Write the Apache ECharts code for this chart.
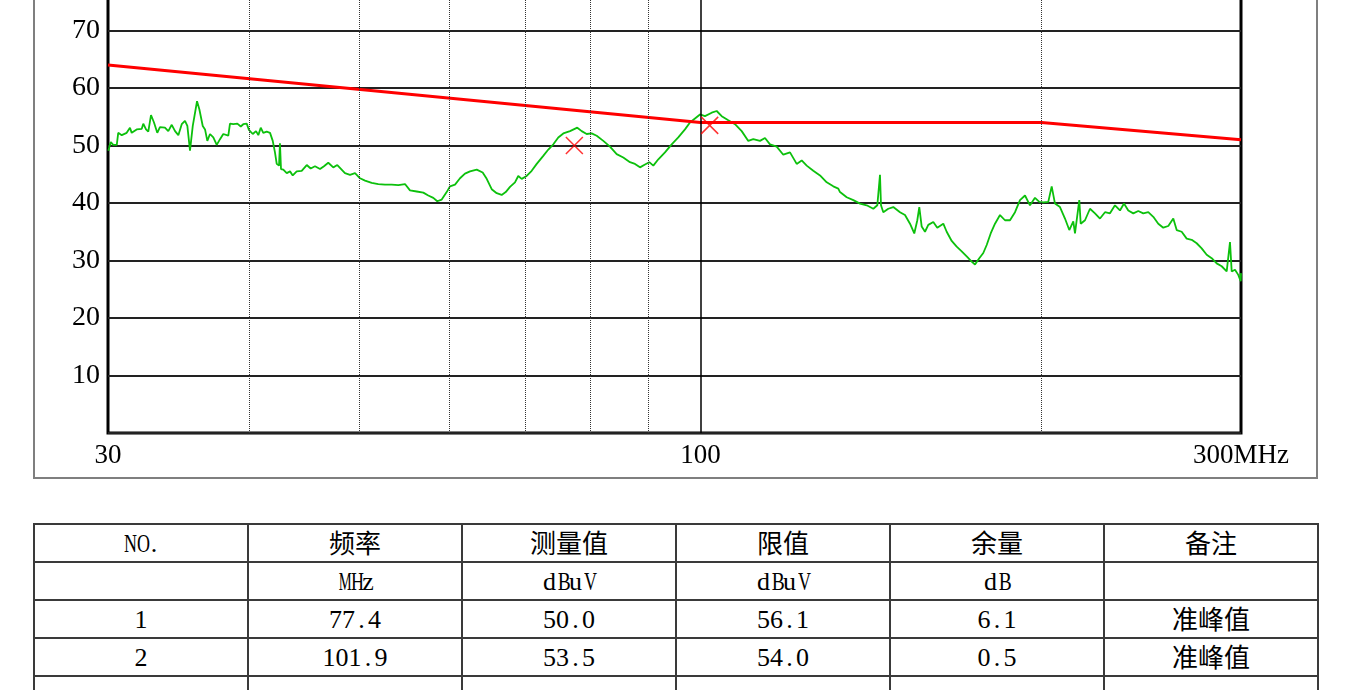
<!DOCTYPE html>
<html><head><meta charset="utf-8">
<script src="https://cdn.jsdelivr.net/npm/echarts@6/dist/echarts.min.js"></script>
<style>
html,body{margin:0;padding:0;width:1362px;height:690px;overflow:hidden;background:#fff;}
#frame{position:absolute;left:33px;top:-20px;width:1285px;height:499px;box-sizing:border-box;border:2px solid #7f7f7f;}
#chart{position:absolute;left:0;top:-41px;width:1362px;height:520px;}
#tbl{position:absolute;left:33px;top:523px;border-collapse:collapse;table-layout:fixed;width:1285px;}
#tbl td{border:2px solid #3a3a3a;height:36px;text-align:center;vertical-align:middle;padding:0;color:#000;line-height:26px;white-space:nowrap;}
#tbl .la{display:inline-block;width:13px;text-align:center;font-family:"Liberation Serif",serif;font-size:26px;line-height:26px;vertical-align:middle;}
#tbl .cj{display:inline-block;font-family:"Noto Sans CJK SC",sans-serif;font-size:26px;line-height:26px;vertical-align:middle;position:relative;top:-2px;}
</style></head>
<body>
<div id="frame"></div>
<div id="chart"></div>
<table id="tbl"></table>
<script>
// measured trace (MHz, dBuV)
const measFreq = [30.02,30.17,30.32,30.54,30.63,30.85,31.16,31.37,31.48,31.80,32.13,32.23,32.41,32.56,32.74,32.94,33.16,33.34,33.68,33.91,34.15,34.38,34.61,34.85,35.08,35.25,35.44,35.64,35.95,36.12,36.37,36.54,36.71,36.91,37.16,37.42,37.67,37.92,38.31,38.44,38.70,39.02,39.29,39.49,39.77,39.95,40.26,40.53,40.72,40.92,41.13,41.42,41.70,41.93,42.12,42.27,42.47,42.55,42.64,42.84,43.14,43.43,43.67,44.02,44.47,44.93,45.29,45.69,46.16,46.53,46.94,47.42,47.81,
48.56,49.06,49.56,50.07,50.58,51.27,51.96,52.67,53.40,54.12,54.86,55.42,56.18,56.94,57.52,58.11,58.58,59.11,59.71,60.11,60.73,61.35,61.97,62.61,63.47,64.24,64.77,65.43,66.10,66.77,67.32,67.91,68.60,69.06,69.54,70.25,70.97,71.70,72.66,73.41,74.16,74.91,75.68,76.72,77.86,78.56,79.36,80.17,80.99,
82.09,83.21,84.35,85.49,86.66,87.55,88.44,89.35,90.13,90.87,91.80,93.05,94.33,95.60,96.91,97.90,98.90,99.91,100.93,102.32,103.36,104.42,105.83,107.28,108.75,110.22,111.34,112.87,114.02,115.19,116.77,118.34,119.97,121.61,122.85,124.11,125.78,127.51,129.26,131.00,132.34,
132.80,134.62,136.44,138.31,140.20,142.10,143.26,144.04,144.34,145.01,146.49,147.99,150.02,151.55,153.10,154.44,155.39,156.02,156.78,157.84,158.90,160.52,161.83,163.82,164.95,166.64,168.34,170.06,171.80,173.55,174.72,176.25,177.69,178.92,180.38,181.97,183.83,185.70,187.60,189.52,191.45,193.41,195.38,197.38,
199.11,200.73,202.78,204.19,205.56,207.66,209.78,211.63,213.35,214.09,215.97,216.59,218.49,220.72,222.97,225.25,227.55,229.87,232.22,234.59,236.51,238.58,241.02,243.48,245.97,248.48,251.02,253.58,256.17,258.79,261.43,263.24,265.93,268.65,271.39,274.16,276.96,279.79,282.65,285.54,288.45,291.40,293.36,294.38,296.36,298.35,299.81,300];
const measLevel = [49.1,50.6,50.1,50.1,52.2,51.8,52.2,53.1,52.2,52.8,52.9,53.8,52.8,52.4,55.3,54.0,52.2,53.2,53.1,52.5,53.6,52.5,51.8,53.7,54.3,53.4,49.1,53.4,57.7,56.3,53.4,52.8,50.8,52.0,51.4,50.1,51.1,52.0,51.7,53.8,53.7,53.8,53.3,53.7,53.8,52.7,52.0,52.5,51.8,53.1,52.2,52.4,52.2,50.8,48.8,46.8,46.5,50.4,45.9,45.8,45.2,45.5,44.8,45.5,45.6,46.6,46.0,46.4,45.9,46.4,47.0,46.2,46.6,
45.2,44.9,45.2,44.3,43.9,43.5,43.3,43.2,43.2,43.1,43.3,42.2,42.0,41.8,41.3,40.9,40.3,40.6,41.9,42.9,43.2,44.3,45.1,45.5,45.8,45.3,44.2,42.4,41.7,41.4,41.9,42.8,43.6,44.7,44.2,44.7,45.6,46.8,48.2,49.3,50.2,51.4,52.1,52.5,53.1,52.5,52.0,52.1,51.7,
50.8,49.8,48.5,47.9,47.1,46.8,46.2,46.7,47.1,46.5,47.6,48.8,50.2,51.4,52.8,54.0,54.7,55.4,55.1,55.7,56.0,55.1,54.4,53.7,52.5,50.8,51.1,50.8,51.3,50.2,49.8,48.4,48.8,46.8,47.4,46.5,45.6,44.8,43.6,42.9,42.5,
41.9,41.0,40.5,39.9,39.6,39.0,39.6,44.9,39.6,38.4,39.0,39.3,38.4,37.9,36.4,34.7,37.0,39.3,35.9,35.0,36.2,36.7,35.7,36.4,35.0,33.4,32.4,31.6,30.7,29.8,29.3,30.4,31.3,32.7,34.7,36.4,37.9,37.0,37.0,38.4,40.5,41.3,39.6,40.9,
40.2,40.1,40.2,42.9,39.9,39.3,37.3,35.3,36.8,34.7,40.5,36.4,37.0,39.0,38.2,37.3,38.4,38.2,39.6,38.7,39.9,38.7,38.2,38.6,38.2,38.4,37.6,36.4,35.7,36.0,37.3,35.3,35.0,33.8,33.6,33.0,32.1,31.0,30.4,29.5,29.0,28.1,33.2,28.1,28.4,27.5,26.4,27.8];

// limit line
const limitFreq = [30, 100, 200, 300];
const limitLevel = [64, 54, 54, 51];

// peak table
const peakNo = ['1', '2'];
const peakFreq = [77.4, 101.9];
const peakLevel = [50.0, 53.5];
const peakLimit = [56.1, 54.0];
const peakMargin = [6.1, 0.5];
const peakNote = ['准峰值', '准峰值'];
const tableHead = ['NO.', '频率', '测量值', '限值', '余量', '备注'];
const tableUnits = ['', 'MHz', 'dBuV', 'dBuV', 'dB', ''];

// axis ticks
const xTickValues = [30, 100, 300];
const xTickLabels = ['30', '100', '300MHz'];
const xMinorGrid = [40, 50, 60, 70, 80, 90, 200];
const xMajorGrid = [100];
const yTicks = [0, 10, 20, 30, 40, 50, 60, 70, 80];

const measured = measFreq.map((f, i) => [f, measLevel[i]]);
const limit = limitFreq.map((f, i) => [f, limitLevel[i]]);
const peaks = peakFreq.map((f, i) => [f, peakLevel[i]]);

const vgrid = xMinorGrid.map(v => ({xAxis: v, lineStyle: {type: [1, 1], color: '#333', width: 1}}))
  .concat(xMajorGrid.map(v => ({xAxis: v, lineStyle: {type: 'solid', color: '#000', width: 1.5}})));

const chart = echarts.init(document.getElementById('chart'));
chart.setOption({
  animation: false,
  grid: {left: 108, right: 121, top: 10, bottom: 46, show: true, borderColor: '#000', borderWidth: 3, backgroundColor: 'transparent'},
  xAxis: {
    type: 'log', logBase: 10, min: 30, max: 300,
    axisLine: {show: false}, axisTick: {show: false}, splitLine: {show: false},
    axisLabel: {
      margin: 9, fontSize: 27, fontFamily: 'Liberation Serif', color: '#000',
      showMinLabel: true, showMaxLabel: true,
      formatter: v => { const i = xTickValues.indexOf(Math.round(v)); return i >= 0 ? xTickLabels[i] : ''; }
    }
  },
  yAxis: {
    type: 'value', min: yTicks[0], max: yTicks[yTicks.length - 1], interval: 10,
    axisLine: {show: false}, axisTick: {show: false},
    splitLine: {lineStyle: {color: '#222', width: 2}},
    axisLabel: {margin: 8, fontSize: 28, fontFamily: 'Liberation Serif', color: '#000',
      formatter: v => v === 0 ? '' : String(v)}
  },
  series: [
    {type: 'line', data: [], z: 1, silent: true,
      markLine: {silent: true, symbol: 'none', label: {show: false}, animation: false, data: vgrid}},
    {type: 'line', data: measured, symbol: 'none', z: 3, silent: true,
      lineStyle: {color: '#0cc00c', width: 1.8}},
    {type: 'line', data: limit, symbol: 'none', z: 4, silent: true,
      lineStyle: {color: '#ff0000', width: 3}},
    {type: 'scatter', data: peaks, z: 5, silent: true,
      symbol: 'path://M0,0L10,10M10,0L0,10', symbolSize: 17,
      itemStyle: {color: 'rgba(0,0,0,0)', borderColor: '#ff0000', borderWidth: 1.5}}
  ]
});

// table: half-width latin cells like the original report font
const ctx = document.createElement('canvas').getContext('2d');
ctx.font = '26px "Liberation Serif"';
function cellHTML(text) {
  let out = '';
  for (const ch of text) {
    if (/[\u3400-\u9fff]/.test(ch)) {
      out += '<span class="cj">' + ch + '</span>';
    } else {
      const w = ctx.measureText(ch).width;
      const sx = w > 13 ? (13 / w).toFixed(3) : 1;
      out += '<span class="la" style="transform:scaleX(' + sx + ')">' + ch + '</span>';
    }
  }
  return out;
}
const rows = [tableHead, tableUnits];
peakNo.forEach((n, i) => rows.push([n, peakFreq[i].toFixed(1), peakLevel[i].toFixed(1), peakLimit[i].toFixed(1), peakMargin[i].toFixed(1), peakNote[i]]));
rows.push(['', '', '', '', '', '']);
const tbl = document.getElementById('tbl');
let html = '<colgroup>' + tableHead.map(() => '<col style="width:214px">').join('') + '</colgroup>';
rows.forEach(r => { html += '<tr>' + r.map(c => '<td>' + cellHTML(c) + '</td>').join('') + '</tr>'; });
tbl.innerHTML = html;
</script>
</body></html>
